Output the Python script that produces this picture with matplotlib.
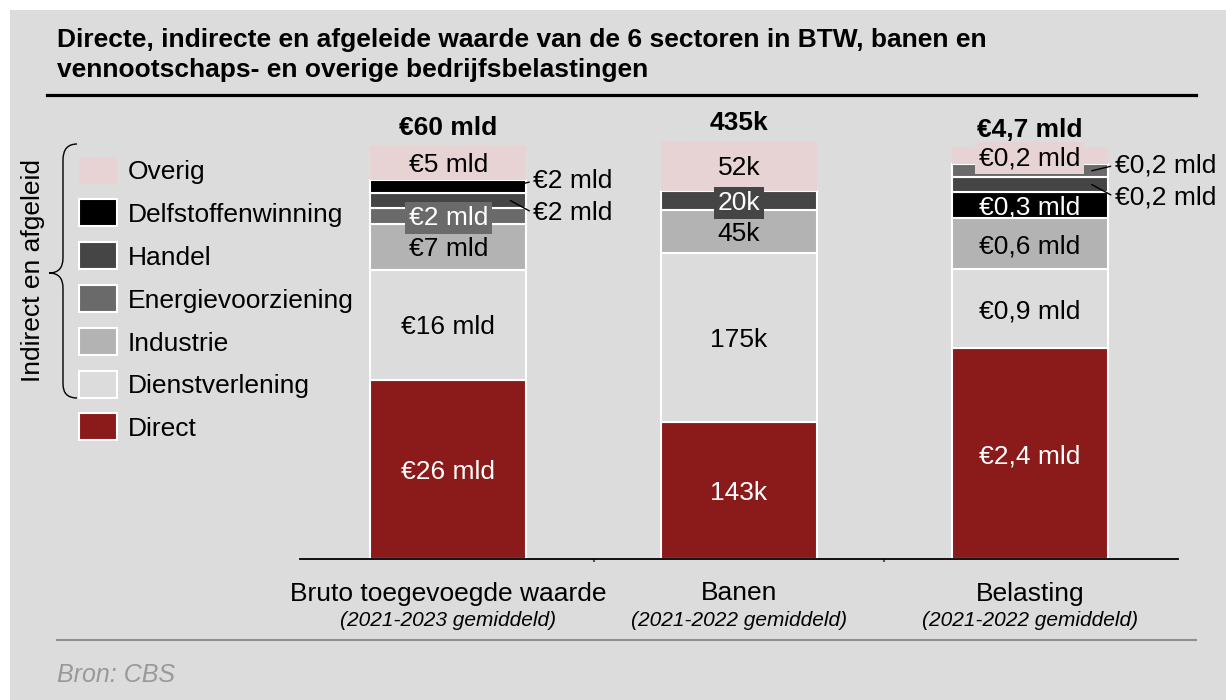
import matplotlib.pyplot as plt
from matplotlib.patches import Rectangle, PathPatch
from matplotlib.path import Path
from matplotlib.lines import Line2D

plt.rcParams['font.family'] = ['Liberation Sans', 'DejaVu Sans']

W, H = 1226, 700

# ---- data ----
sectors = ["Direct", "Dienstverlening", "Industrie", "Energievoorziening",
           "Handel", "Delfstoffenwinning", "Overig"]
bars = ["Bruto toegevoegde waarde", "Banen", "Belasting"]
periods = ["(2021-2023 gemiddeld)", "(2021-2022 gemiddeld)", "(2021-2022 gemiddeld)"]
totals = [60, 435, 4.7]
total_labels = ["€60 mld", "435k", "€4,7 mld"]

# waarden per sector, zelfde volgorde als sectors
bvw = [25.7, 15.8, 6.6, 2.3, 2.1, 1.9, 4.9]
banen = [143, 175, 45, 0, 20, 0, 52]
belasting = [2.37, 0.89, 0.57, 0.15, 0.16, 0.30, 0.19]

bvw_labels = ["€26 mld", "€16 mld", "€7 mld", "€2 mld", "€2 mld", "€2 mld", "€5 mld"]
banen_labels = ["143k", "175k", "45k", "", "20k", "", "52k"]
belasting_labels = ["€2,4 mld", "€0,9 mld", "€0,6 mld", "€0,2 mld", "€0,2 mld", "€0,3 mld", "€0,2 mld"]

values = [bvw, banen, belasting]
labels = [bvw_labels, banen_labels, belasting_labels]

# ---- styling ----
colors = {"Direct": "#8B1A1A", "Dienstverlening": "#DCDCDC", "Industrie": "#B3B3B3",
          "Energievoorziening": "#6A6A6A", "Handel": "#454545",
          "Delfstoffenwinning": "#000000", "Overig": "#E7D3D3"}
white_txt = {"Direct", "Energievoorziening", "Handel", "Delfstoffenwinning"}
# hoe een label geplaatst wordt (anders: gewoon midden in het segment)
label_mode = {(0, "Energievoorziening"): "box", (0, "Handel"): "down",
              (0, "Delfstoffenwinning"): "up", (1, "Handel"): "box",
              (2, "Overig"): "box", (2, "Energievoorziening"): "up",
              (2, "Handel"): "down"}
BG = "#DCDCDC"
FS = 19


def fx(x):
    return x / W


def fy(y):
    return 1 - y / H


fig = plt.figure(figsize=(W / 100, H / 100), dpi=100, facecolor="white")
fig.add_artist(Rectangle((fx(10), 0), 1, fy(10), transform=fig.transFigure,
                         facecolor=BG, edgecolor="none", zorder=-10))

# titel
fig.text(fx(57), fy(47), "Directe, indirecte en afgeleide waarde van de 6 sectoren in BTW, banen en",
         fontsize=19, fontweight="bold", va="baseline", ha="left")
fig.text(fx(57), fy(77), "vennootschaps- en overige bedrijfsbelastingen",
         fontsize=19, fontweight="bold", va="baseline", ha="left")
fig.add_artist(Line2D([fx(47), fx(1196)], [fy(95), fy(95)], transform=fig.transFigure,
                      color="black", lw=2.3))

# ---- bars ----
ax = fig.add_axes([fx(300), fy(559), fx(878), 418 / H])
ax.set_xlim(-0.51, 2.51)
ax.set_ylim(0, 1)
ax.patch.set_alpha(0)
for s in ["top", "right", "left"]:
    ax.spines[s].set_visible(False)
ax.spines["bottom"].set_linewidth(1.3)
ax.set_yticks([])
ax.set_xticks([])
ax.set_xticks([0.5, 1.5], minor=True)
ax.tick_params(axis="x", which="minor", length=2, width=1.5, color="#555555", labelbottom=False)

bw = 0.537
for i in range(len(bars)):
    vals = dict(zip(sectors, values[i]))
    labs = dict(zip(sectors, labels[i]))
    middle = sorted(sectors[1:-1], key=lambda s: -vals[s])
    order = [sectors[0]] + middle + [sectors[-1]]
    bottom = 0
    for s in order:
        h = vals[s] / totals[i]
        if h <= 0:
            continue
        ec = "none" if s == "Overig" else "white"
        ax.bar(i, h, bw, bottom=bottom, color=colors[s], edgecolor=ec, linewidth=1.5)
        yc = bottom + h / 2
        mode = label_mode.get((i, s), "in")
        tc = "white" if s in white_txt else "black"
        if mode == "in":
            ax.text(i, yc, labs[s], ha="center", va="center_baseline", fontsize=FS, color=tc)
        elif mode == "box":
            ax.text(i, yc, labs[s], ha="center", va="center_baseline", fontsize=FS, color=tc,
                    bbox=dict(boxstyle="square,pad=0.15", fc=colors[s], ec="none"))
        else:
            dy = 8 if mode == "up" else -10
            ax.annotate(labs[s], xy=(i + bw / 2 - 0.055, yc), xytext=(23, dy),
                        textcoords="offset pixels", ha="left", va="center_baseline",
                        fontsize=FS, color="black",
                        arrowprops=dict(arrowstyle="-", lw=1, color="black",
                                        shrinkA=1, shrinkB=0, relpos=(0, 0.5)))
        bottom += h
    ax.annotate(total_labels[i], xy=(i, bottom), xytext=(0, 20), textcoords="offset pixels",
                ha="center", va="center_baseline", fontsize=FS, fontweight="bold")
    ax.annotate(bars[i], xy=(i, 0), xytext=(0, -32), textcoords="offset pixels",
                ha="center", va="center_baseline", fontsize=FS, annotation_clip=False)
    ax.annotate(periods[i], xy=(i, 0), xytext=(0, -60), textcoords="offset pixels",
                ha="center", va="center_baseline", fontsize=15, style="italic",
                annotation_clip=False)

# ---- legend ----
for k, s in enumerate(sectors[::-1]):
    yc = 170 + k * 42.8
    ec = "none" if s == "Overig" else "white"
    fig.add_artist(Rectangle((fx(79), fy(yc + 13.5)), 38 / W, 27 / H, transform=fig.transFigure,
                             facecolor=colors[s], edgecolor=ec, linewidth=1.5))
    fig.text(fx(128), fy(yc), s, fontsize=FS, va="center_baseline", ha="left")

# accolade
pts = [(77, 144), (63, 144), (63, 160), (63, 258), (63, 273), (49, 273),
       (63, 273), (63, 288), (63, 384), (63, 398), (77, 398)]
codes = [Path.MOVETO, Path.CURVE3, Path.CURVE3, Path.LINETO, Path.CURVE3, Path.CURVE3,
         Path.CURVE3, Path.CURVE3, Path.LINETO, Path.CURVE3, Path.CURVE3]
brace = Path([(fx(x), fy(y)) for x, y in pts], codes)
fig.add_artist(PathPatch(brace, transform=fig.transFigure, fill=False, lw=1, color="black"))
fig.text(fx(33), fy(270), "Indirect en afgeleid", rotation=90, fontsize=FS,
         ha="center", va="center")

# onderkant
fig.add_artist(Line2D([fx(57), fx(1196)], [fy(640), fy(640)], transform=fig.transFigure,
                      color="#909090", lw=1.5))
fig.text(fx(57), fy(673), "Bron: CBS", fontsize=18, style="italic", color="#999999",
         va="center_baseline", ha="left")

fig.savefig("out.png", dpi=100, facecolor=fig.get_facecolor())
